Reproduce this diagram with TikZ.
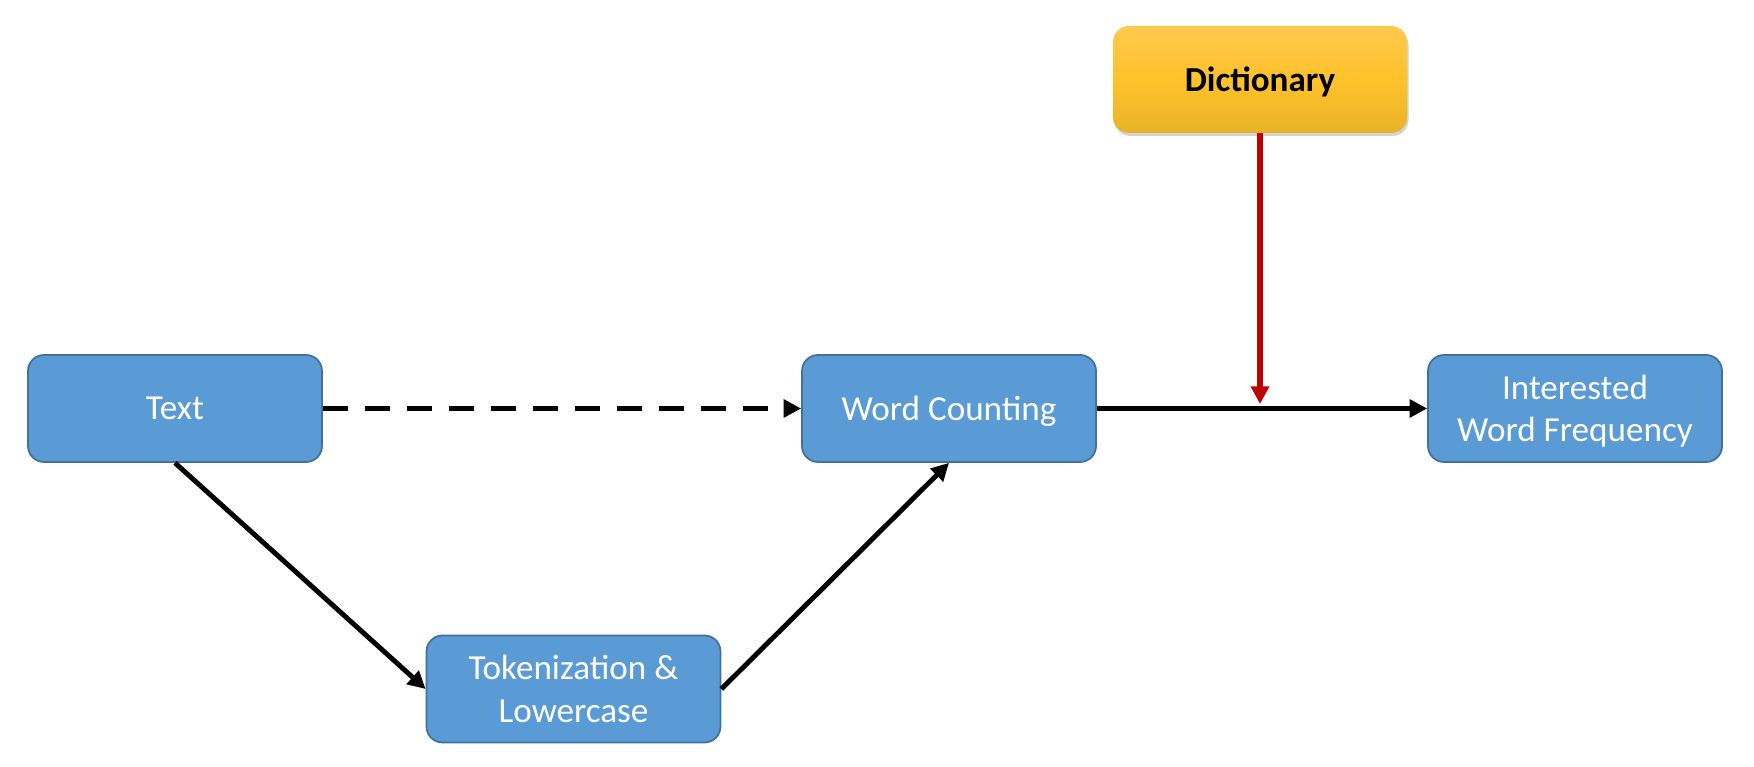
\documentclass[tikz,border=0pt]{standalone}
\usepackage{fontspec}
\setmainfont{Carlito}
\usetikzlibrary{arrows.meta,shadows}
\definecolor{boxfill}{HTML}{5B9BD5}
\definecolor{boxline}{HTML}{41719C}
\definecolor{dictop}{HTML}{FFC94F}
\definecolor{dicmid}{HTML}{FFC22A}
\definecolor{dicbot}{HTML}{E8B329}
\definecolor{redarrow}{HTML}{C00000}
\newcommand{\nodepth}[1]{\raisebox{0pt}[\height][0pt]{#1}}
\tikzset{
  procbox/.style={draw=boxline, line width=1pt, fill=boxfill, rounded corners=0.32cm,
    minimum width=5.88cm, minimum height=2.14cm, text=white, align=center,
    font=\fontsize{20}{24}\selectfont, inner sep=0pt},
  dictbox/.style={rounded corners=0.32cm, minimum width=5.88cm, minimum height=2.14cm,
    top color=dictop, bottom color=dicbot, middle color=dicmid, text=black,
    font=\fontsize{20}{24}\selectfont\bfseries, inner sep=0pt,
    drop shadow={shadow xshift=0.03cm, shadow yshift=-0.06cm, opacity=0.35}},
  conn/.style={line width=2.8pt, -{Triangle[length=10pt,width=10pt]}},
}
\begin{document}
\begin{tikzpicture}
\useasboundingbox (0,0) rectangle (35.08,15.32);
\node[procbox] (text) at (3.5,7.15) {Text};
\node[procbox] (wc) at (18.98,7.15) {\nodepth{Word Counting}};
\node[procbox] (iwf) at (31.5,7.15) {Interested\\\nodepth{Word Frequency}};
\node[procbox] (tok) at (11.47,1.54) {Tokenization \&\\Lowercase};
\node[dictbox] (dict) at (25.2,13.73) {\nodepth{Dictionary}};
\coordinate (join) at (25.2,7.24);
\draw[conn, dash pattern=on 0.5cm off 0.34cm] (text.east) -- (wc.west);
\draw[conn] (text.south) -- (tok.west);
\draw[conn] (tok.east) -- (wc.south);
\draw[conn] (wc.east) -- (iwf.west);
\draw[conn, draw=redarrow, fill=redarrow, line width=3.1pt] (dict.south) -- (join);
\end{tikzpicture}
\end{document}
